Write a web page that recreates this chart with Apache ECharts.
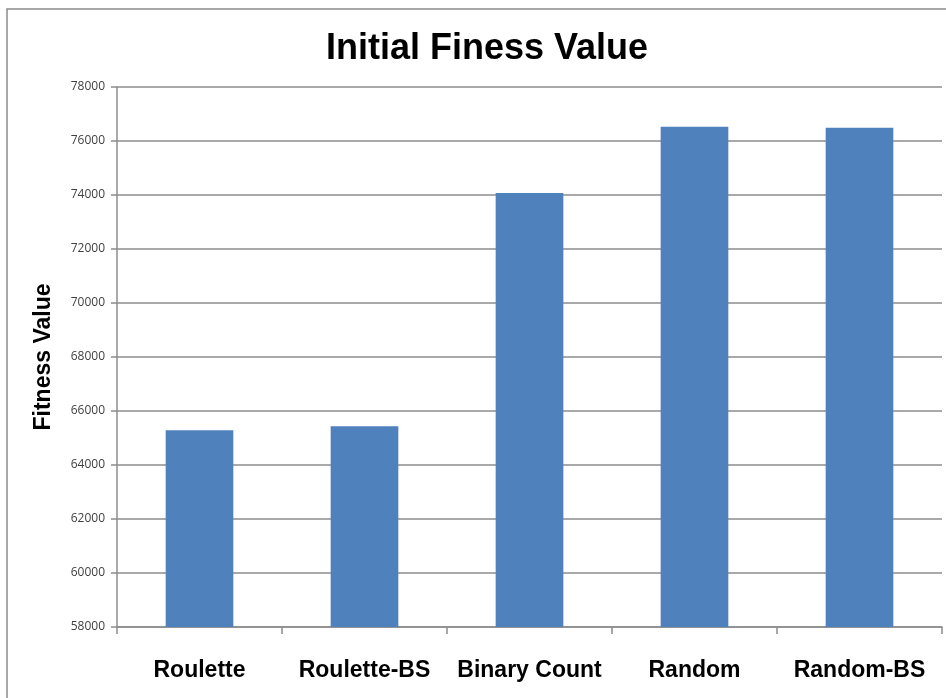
<!DOCTYPE html>
<html>
<head>
<meta charset="utf-8">
<script src="https://cdn.jsdelivr.net/npm/echarts@6/dist/echarts.min.js"></script>
<style>
  html, body { margin: 0; padding: 0; background: #fff; }
  #chart { width: 946px; height: 698px; }
</style>
</head>
<body>
<div id="chart"></div>
<script>
// Values.
const categories = ['Roulette', 'Roulette-BS', 'Binary Count', 'Random', 'Random-BS'];
const fitness = [65285, 65435, 74075, 76530, 76490];
const yMin = 58000;
const yMax = 78000;
const yStep = 2000;

const font = '"Liberation Sans", sans-serif';
const chart = echarts.init(document.getElementById('chart'), null, { renderer: 'canvas' });

chart.setOption({
  backgroundColor: '#fff',
  animation: false,
  title: {
    text: 'Initial Finess Value',
    left: 482,
    textAlign: 'center',
    top: 26,
    textStyle: { fontFamily: font, fontSize: 36, fontWeight: 'bold', color: '#000' },
  },
  graphic: [{
    type: 'rect',
    shape: { x: 7, y: 9, width: 960, height: 720 },
    style: { fill: 'none', stroke: '#8c8c8c', lineWidth: 1.5 },
    silent: true,
  }],
  grid: { left: 117, right: 4, top: 87, bottom: 71 },
  xAxis: {
    type: 'category',
    data: categories,
    axisLine: { lineStyle: { color: '#8c8c8c', width: 1.5 } },
    axisTick: { show: true, length: 7, lineStyle: { color: '#8c8c8c', width: 1.5 } },
    axisLabel: {
      interval: 0,
      hideOverlap: false,
      margin: 32,
      fontFamily: font,
      fontSize: 23,
      fontWeight: 'bold',
      color: '#000',
    },
  },
  yAxis: {
    type: 'value',
    min: yMin,
    max: yMax,
    interval: yStep,
    name: 'Fitness Value',
    nameLocation: 'middle',
    nameGap: 62,
    nameTextStyle: { fontFamily: font, fontSize: 23, fontWeight: 'bold', color: '#000' },
    axisLine: { show: true, lineStyle: { color: '#8c8c8c', width: 1.5 } },
    axisTick: { show: true, length: 6, lineStyle: { color: '#8c8c8c', width: 1.5 } },
    axisLabel: {
      margin: 12,
      fontFamily: '"Open Sans", sans-serif',
      fontSize: 12,
      color: '#404040',
      formatter: (v) => String(v),
    },
    splitLine: { lineStyle: { color: '#8c8c8c', width: 1.5 } },
  },
  series: [{
    type: 'bar',
    data: fitness,
    barWidth: '41%',
    itemStyle: { color: '#4f81bd' },
  }],
});
</script>
</body>
</html>
